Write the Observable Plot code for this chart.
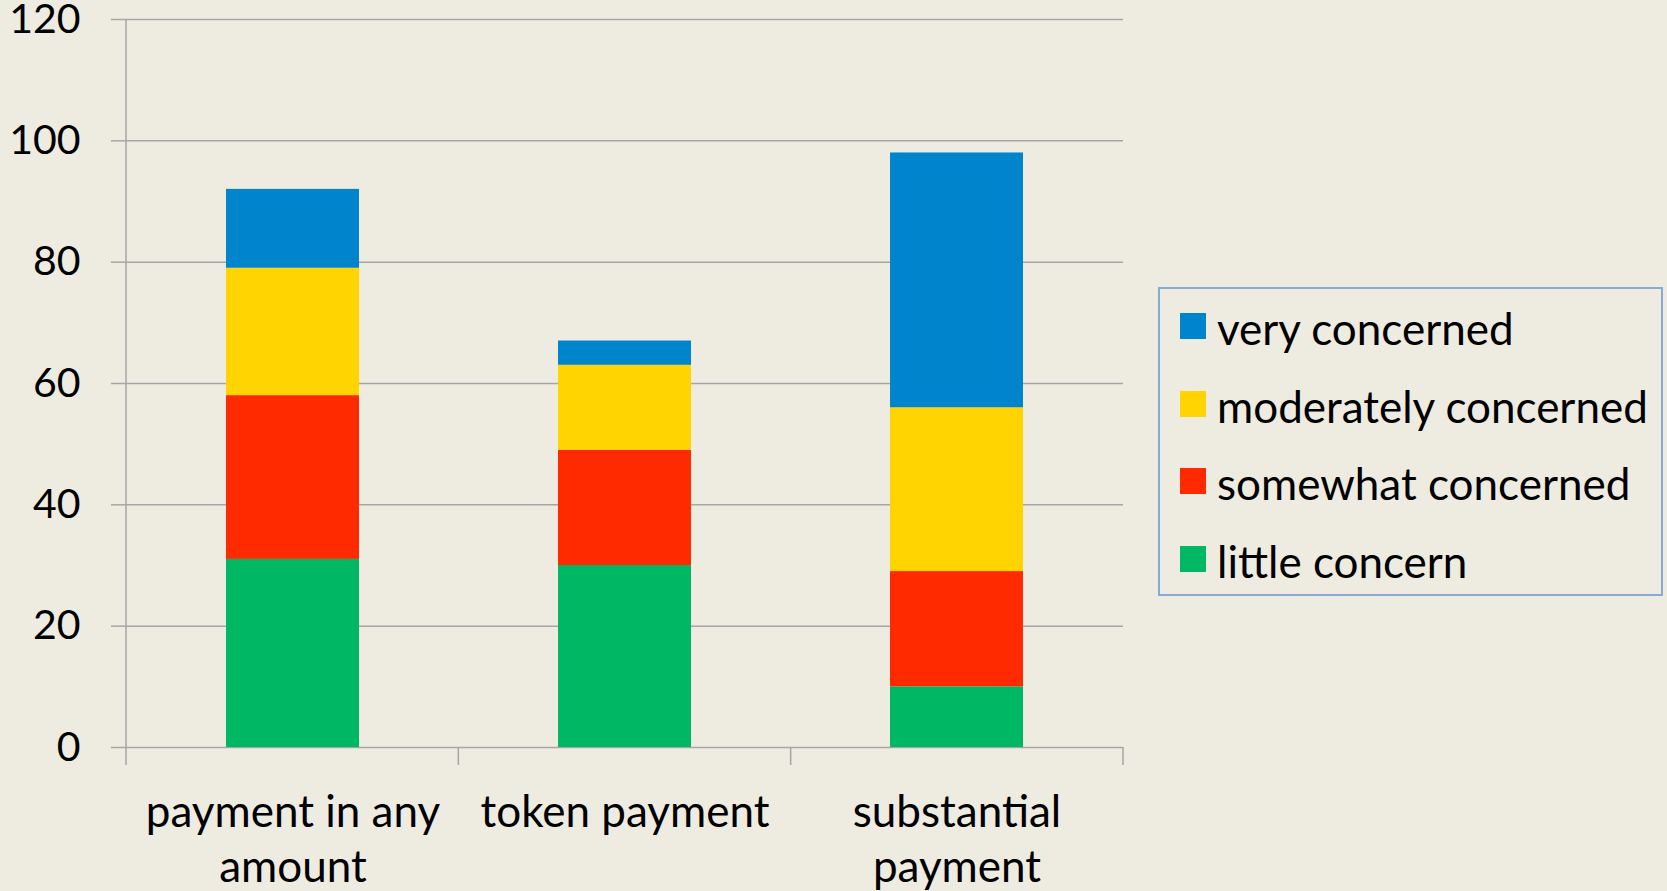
<!DOCTYPE html>
<html><head><meta charset="utf-8">
<script src="https://cdn.jsdelivr.net/npm/d3@7"></script>
<script src="https://cdn.jsdelivr.net/npm/@observablehq/plot@0.6"></script>
<style>
html,body{margin:0;padding:0;background:#EEEBE0;}
body{width:1667px;height:891px;position:relative;overflow:hidden;font-family:Lato,"Open Sans",sans-serif;}
#chart{position:absolute;left:0;top:0;}
#legend{position:absolute;left:1158px;top:287px;width:505px;height:309px;border:2px solid #8AAAD6;box-sizing:border-box;}
.sw{position:absolute;left:20px;width:26px;height:26px;}
.lt{position:absolute;left:57px;font-size:44px;line-height:44px;color:#000;white-space:nowrap;}
</style></head><body>
<div id="chart"></div>
<div id="legend"></div>
<script>
const categories = ["payment in any amount", "token payment", "substantial payment"];
const categoryLabels = ["payment in any\namount", "token payment", "substantial\npayment"];
const levels = ["little concern", "somewhat concerned", "moderately concerned", "very concerned"];
const littleConcern = [31, 30, 10];
const somewhatConcerned = [27, 19, 19];
const moderatelyConcerned = [21, 14, 27];
const veryConcerned = [13, 4, 42];
const levelColors = ["#00B864", "#FF2A00", "#FFD400", "#0084CC"];
const yTicks = [0, 20, 40, 60, 80, 100, 120];

const series = [littleConcern, somewhatConcerned, moderatelyConcerned, veryConcerned];
const rows = categories.flatMap((c, i) => levels.map((l, j) => ({category: c, level: l, value: series[j][i]})));

const gridColor = "#A6A6A6";

function categoryTicks(index, scales, values, dims) {
  const y = scales.y;
  const left = dims.marginLeft, right = dims.width - dims.marginRight;
  const n = categories.length;
  const y0 = y(0), yTop = y(120), tickLen = 18;
  const g = d3.create("svg:g").attr("stroke", gridColor).attr("stroke-width", 1.5);
  g.append("line").attr("x1", left).attr("x2", left).attr("y1", yTop).attr("y2", y0 + tickLen);
  for (let i = 1; i <= n; i++) {
    const bx = left + i * (right - left) / n;
    g.append("line").attr("x1", bx).attr("x2", bx).attr("y1", y0).attr("y2", y0 + tickLen);
  }
  return g.node();
}

const chart = Plot.plot({
  width: 1667, height: 891,
  marginLeft: 126, marginRight: 544, marginTop: 19, marginBottom: 144,
  style: {background: "transparent", fontFamily: "Lato, 'Open Sans', sans-serif", fontSize: "40px", color: "#000", overflow: "visible"},
  x: {domain: categories, paddingInner: 0.6, paddingOuter: 0.3, label: null},
  y: {domain: [0, 120], label: null},
  color: {domain: levels, range: levelColors},
  marks: [
    Plot.ruleY(yTicks, {stroke: gridColor, strokeWidth: 1.5}),
    Plot.axisY(yTicks, {tickSize: 15, tickPadding: 31, stroke: gridColor, strokeWidth: 1.5, fill: "#000", fontSize: 41, label: null}),
    Plot.barY(rows, {x: "category", y: "value", fill: "level"}),
    Plot.axisX({tickSize: 0, tickPadding: 40, tickFormat: c => categoryLabels[categories.indexOf(c)], lineHeight: 1.25, fontSize: 44, fill: "#000", label: null}),
    categoryTicks
  ]
});
document.getElementById("chart").appendChild(chart);

const legend = document.getElementById("legend");
levels.slice().reverse().forEach((l, k) => {
  const color = levelColors[levels.indexOf(l)];
  const sw = document.createElement("div");
  sw.className = "sw";
  sw.style.top = (24 + k * 77.5) + "px";
  sw.style.background = color;
  legend.appendChild(sw);
  const t = document.createElement("div");
  t.className = "lt";
  t.style.top = (17 + k * 77.5) + "px";
  t.textContent = l;
  legend.appendChild(t);
});
</script>
</body></html>
